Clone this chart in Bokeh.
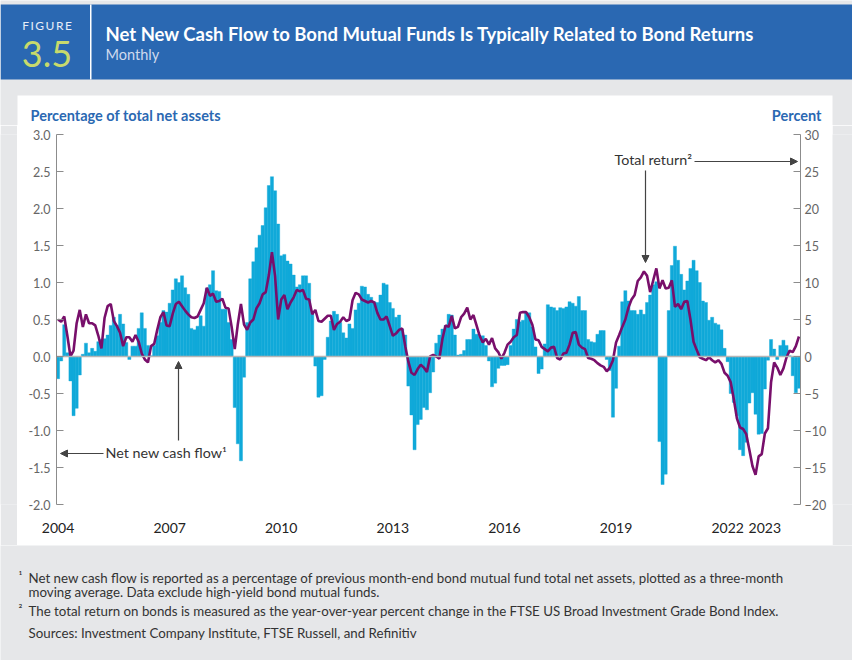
from bokeh.plotting import figure
from bokeh.layouts import column, row
from bokeh.models import (Range1d, LinearAxis, FixedTicker, Label, BoxAnnotation, Span,
                          Arrow, NormalHead, NumeralTickFormatter)
from bokeh.embed import file_html
from bokeh.resources import INLINE

# ---------------- data (monthly, Jan 2004 .. Dec 2023) ----------------
month_index = list(range(240))  # 0 = Jan 2004

# Net new cash flow, % of total net assets (3-month moving average)
net_flow = [
    -0.30, -0.06, 0.43, 0.05, -0.33, -0.80, -0.70, -0.25, 0.03, 0.18, 0.05, 0.11,   # 2004
    0.07, 0.20, 0.23, 0.24, 0.29, 0.42, 0.53, 0.42, 0.57, 0.44, 0.19, -0.04,        # 2005
    0.14, 0.14, 0.38, 0.59, 0.38, 0.15, 0.01, 0.15, 0.28, 0.46, 0.62, 0.60,         # 2006
    0.72, 0.90, 1.05, 1.00, 1.09, 0.93, 0.84, 0.38, 0.36, 0.41, 0.55, 0.41,         # 2007
    0.92, 0.97, 1.16, 0.89, 0.88, 0.64, 0.64, 0.46, 0.23, -0.69, -1.18, -1.41,      # 2008
    -0.28, 0.46, 1.05, 1.28, 1.47, 1.64, 1.77, 2.01, 2.31, 2.43, 2.24, 1.79,        # 2009
    1.36, 1.38, 1.29, 1.25, 1.10, 0.94, 0.97, 1.09, 1.09, 0.99, 0.57, -0.13,        # 2010
    -0.55, -0.53, -0.04, 0.26, 0.48, 0.61, 0.57, 0.46, 0.32, 0.25, 0.44, 0.38,      # 2011
    0.63, 0.72, 0.95, 0.94, 0.84, 0.80, 0.74, 0.73, 0.83, 0.99, 0.97, 0.73,         # 2012
    0.65, 0.53, 0.56, 0.37, 0.29, -0.40, -0.79, -1.26, -0.92, -0.85, -0.69, -0.72,  # 2013
    -0.49, -0.21, 0.18, 0.29, 0.37, 0.42, 0.57, 0.56, 0.29, 0.02, 0.03, 0.08,       # 2014
    0.23, 0.23, 0.37, 0.30, 0.27, 0.28, 0.15, -0.06, -0.41, -0.36, -0.16, -0.12,    # 2015
    -0.12, -0.11, 0.15, 0.37, 0.50, 0.47, 0.49, 0.59, 0.59, 0.40, 0.13, -0.23,      # 2016
    -0.17, 0.17, 0.70, 0.67, 0.66, 0.62, 0.66, 0.65, 0.67, 0.74, 0.72, 0.68,        # 2017
    0.81, 0.62, 0.62, 0.23, 0.20, 0.19, 0.30, 0.35, 0.35, -0.04, -0.19, -0.82,      # 2018
    -0.43, 0.14, 0.74, 0.89, 0.75, 0.62, 0.62, 0.57, 0.63, 0.57, 0.73, 0.83,        # 2019
    0.97, 1.01, -1.15, -1.73, -1.59, 0.62, 1.23, 1.49, 1.30, 1.11, 0.90, 1.02,      # 2020
    1.19, 1.30, 1.16, 1.00, 0.75, 0.73, 0.49, 0.53, 0.45, 0.43, 0.36, 0.11,         # 2021
    -0.07, -0.50, -0.62, -0.80, -1.26, -1.34, -1.16, -0.63, -0.49, -0.78, -1.05, -1.04,  # 2022
    -0.44, -0.05, 0.23, 0.10, -0.04, 0.15, 0.22, 0.15, 0.01, -0.26, -0.49, -0.43,   # 2023
]

# Total return on bonds, year-over-year percent change
total_return = [
    5.0, 4.7, 5.4, 2.8, 0.0, 0.8, 4.5, 6.3, 4.0, 5.7, 4.5, 4.5,            # 2004
    4.2, 2.8, 1.1, 5.2, 6.8, 7.1, 4.8, 4.1, 3.2, 1.4, 2.6, 2.6,            # 2005
    2.0, 2.9, 2.0, 0.4, -0.4, -0.8, 1.4, 1.7, 3.6, 5.3, 6.0, 4.2,          # 2006
    4.1, 5.8, 7.1, 7.4, 6.8, 6.2, 5.7, 5.3, 5.2, 5.4, 6.3, 7.2,            # 2007
    9.3, 8.2, 8.5, 7.4, 7.5, 7.8, 6.6, 6.5, 4.0, 1.0, 4.4, 7.1,            # 2008
    4.3, 3.6, 4.6, 5.0, 6.5, 7.2, 8.4, 8.7, 11.0, 14.1, 10.9, 5.0,         # 2009
    7.7, 8.3, 6.4, 7.3, 8.0, 9.0, 8.8, 9.0, 7.8, 7.7, 5.7, 6.3,            # 2010
    4.8, 4.7, 5.1, 5.5, 5.5, 3.6, 4.4, 4.7, 5.3, 4.8, 5.0, 7.6,            # 2011
    8.6, 8.4, 7.7, 7.5, 7.3, 7.5, 7.3, 5.9, 5.0, 5.0, 5.4, 4.1,            # 2012
    2.8, 3.1, 3.6, 3.8, 1.4, -0.7, -2.2, -2.5, -1.7, -1.1, -1.5, -2.1,     # 2013
    0.0, 0.2, 0.0, -0.3, 2.4, 4.2, 4.0, 5.5, 3.8, 4.0, 5.3, 5.8,           # 2014
    6.6, 5.0, 5.6, 4.2, 2.8, 1.9, 2.4, 1.6, 2.5, 1.1, 0.6, -0.3,           # 2015
    0.5, 1.6, 2.0, 2.6, 2.9, 5.9, 6.0, 6.0, 5.3, 4.3, 2.3, 2.2,            # 2016
    1.3, 1.0, 0.7, 1.2, 1.3, -0.2, -0.4, 0.4, 0.5, 1.6, 3.2, 3.3,          # 2017
    1.6, 1.2, 1.0, -0.2, -0.3, -0.5, -0.9, -1.2, -1.4, -2.0, -1.5, -0.5,   # 2018
    1.9, 2.9, 4.0, 5.0, 6.6, 7.7, 8.3, 10.2, 10.7, 11.5, 10.9, 8.7,        # 2019
    10.3, 11.9, 9.2, 10.3, 9.2, 9.3, 10.3, 6.7, 7.1, 6.4, 7.4, 7.5,        # 2020
    5.0, 2.0, 0.9, -0.1, -0.3, -0.5, -0.1, -0.5, -0.8, -0.5, -1.0, -2.2,   # 2021
    -2.6, -3.5, -5.8, -8.4, -9.6, -9.8, -10.5, -12.6, -14.8, -16.0, -13.5, -13.2,  # 2022
    -10.4, -9.7, -3.5, -0.8, -1.5, -2.5, -1.6, -0.1, 0.8, 0.6, 1.4, 2.7,   # 2023
]

year_ticks = [0, 36, 72, 108, 144, 180, 216, 228]
year_labels = ["2004", "2007", "2010", "2013", "2016", "2019", "2022", "2023"]
left_ticks = [-2.0, -1.5, -1.0, -0.5, 0.0, 0.5, 1.0, 1.5, 2.0, 2.5, 3.0]
right_ticks = [-20, -15, -10, -5, 0, 5, 10, 15, 20, 25, 30]

# ---------------- styling ----------------
BLUE = "#2a68b2"
GRAY_BG = "#e6e7e9"
BAR = "#10a9d9"
LINE = "#780f6b"
TXT = "#333333"
FONT = "Lato"
PAGE_W, PAGE_H = 852, 660
PANEL_L, PANEL_R, PANEL_T, PANEL_B = 17, 832, 125, 545


def deco_fig(w, h, y_top, y_bot, bg):
    """Decoration canvas whose data units are the page's pixels."""
    f = figure(width=w, height=h, output_backend="svg", toolbar_location=None,
               x_range=Range1d(0, w), y_range=Range1d(y_bot, y_top),
               x_axis_location=None, y_axis_location=None, title_location=None,
               min_border=0)
    f.min_border_left = f.min_border_right = f.min_border_top = f.min_border_bottom = 0
    f.xgrid.visible = False
    f.ygrid.visible = False
    f.outline_line_color = None
    f.background_fill_color = bg
    f.border_fill_color = bg
    return f


def add_label(f, text, x, y, size, color, bold=False, align="left"):
    f.add_layout(Label(x=x, y=y, text=text, text_font=FONT,
                       text_font_size=f"{size}px", text_color=color,
                       text_font_style="bold" if bold else "normal",
                       text_align=align, text_baseline="middle"))


def box(f, l, r, t, b, color):
    f.add_layout(BoxAnnotation(left=l, right=r, top=t, bottom=b, fill_color=color,
                               fill_alpha=1.0, line_alpha=0, level="underlay"))


# ---------------- header ----------------
head = deco_fig(PAGE_W, PANEL_T, 0, PANEL_T, GRAY_BG)
box(head, 0, PAGE_W, 4, 79, BLUE)
box(head, 89.5, 91, 4, 79, "white")
box(head, PANEL_L, PANEL_R, 95, PANEL_T + 1, "white")
add_label(head, "F\u2009I\u2009G\u2009U\u2009R\u2009E", 46.5, 25, 12, "#e8eef8", align="center")
add_label(head, "3.5", 46.5, 53, 36, "#c8da6c", align="center")
add_label(head, "Net New Cash Flow to Bond Mutual Funds Is Typically Related to Bond Returns",
          105, 33, 18.5, "white", bold=True)
add_label(head, "Monthly", 105, 54, 14.5, "#cfdaee")
add_label(head, "Percentage of total net assets", 30, 115, 14.5, BLUE, bold=True)
add_label(head, "Percent", 821, 115, 14.5, BLUE, bold=True, align="right")

# ---------------- main chart ----------------
p = figure(width=PANEL_R - PANEL_L, height=PANEL_B - PANEL_T, output_backend="svg",
           toolbar_location=None,
           x_range=Range1d(-0.5, 239.5), y_range=Range1d(-2, 3),
           x_axis_location=None, y_axis_location=None, title_location=None,
           min_border_left=39, min_border_right=32, min_border_top=9, min_border_bottom=41)
p.extra_y_ranges = {"ret": Range1d(-20, 30)}
p.xgrid.visible = False
p.ygrid.visible = False
p.outline_line_color = None
p.background_fill_color = "white"
p.border_fill_color = "white"

axis_gray = "#8c8c8c"
yl = LinearAxis(ticker=FixedTicker(ticks=left_ticks), formatter=NumeralTickFormatter(format="0.0"))
yr = LinearAxis(y_range_name="ret", ticker=FixedTicker(ticks=right_ticks))
for ax in (yl, yr):
    ax.axis_line_color = axis_gray
    ax.major_tick_line_color = axis_gray
    ax.major_tick_in = 7
    ax.major_tick_out = 0
    ax.minor_tick_line_color = None
    ax.major_label_text_font = FONT
    ax.major_label_text_font_size = "12.5px"
    ax.major_label_text_color = "#666666"
yl.major_label_standoff = 6
yr.major_label_standoff = 4
p.add_layout(yl, "left")
p.add_layout(yr, "right")

xa = LinearAxis(ticker=FixedTicker(ticks=year_ticks),
                major_label_overrides=dict(zip(year_ticks, year_labels)))
xa.axis_line_color = None
xa.major_tick_line_color = None
xa.minor_tick_line_color = None
xa.major_label_standoff = 12
xa.major_label_text_font = FONT
xa.major_label_text_font_size = "14px"
xa.major_label_text_color = "#222222"
p.add_layout(xa, "below")

p.vbar(x=month_index, top=net_flow, bottom=0, width=1.0,
       fill_color=BAR, line_color=BAR, line_width=0.4)
p.add_layout(Span(location=0, dimension="width", line_color="#b5b5b5", line_width=1.5, level="glyph"))
p.line(x=month_index, y=total_return, y_range_name="ret", line_color=LINE, line_width=2.6)


# page pixel -> chart data coordinates (for the annotations only)
def RX(px):
    return -0.5 + (px - 56) / 3.1


def RY(py):
    return 3 - (py - 134) / 74


add_label(p, "Total return\u00b2", RX(614), RY(159), 14.3, TXT)
add_label(p, "Net new cash flow\u00b9", RX(105), RY(452), 14.3, TXT)
arrow_c = "#444444"
for (x0, y0, x1, y1) in [(694, 161, 797, 161), (645, 170, 645, 262),
                         (103, 453, 60, 453), (178, 440, 178, 361)]:
    p.add_layout(Arrow(end=NormalHead(size=7, fill_color=arrow_c, line_color=arrow_c),
                       x_start=RX(x0), y_start=RY(y0), x_end=RX(x1), y_end=RY(y1),
                       line_color=arrow_c, line_width=1.2))

side_l = deco_fig(PANEL_L, PANEL_B - PANEL_T, 0, PANEL_B - PANEL_T, GRAY_BG)
side_r = deco_fig(PAGE_W - PANEL_R, PANEL_B - PANEL_T, 0, PANEL_B - PANEL_T, GRAY_BG)

# ---------------- footnotes ----------------
foot = deco_fig(PAGE_W, PAGE_H - PANEL_B, PANEL_B, PAGE_H, GRAY_BG)
FN = 13.3
add_label(foot, "\u00b9", 18, 575, 11.5, TXT)
add_label(foot, "Net new cash flow is reported as a percentage of previous month-end bond mutual fund total net assets, plotted as a three-month",
          28, 577, FN, TXT)
add_label(foot, "moving average. Data exclude high-yield bond mutual funds.", 28, 591, FN, TXT)
add_label(foot, "\u00b2", 18, 608, 11.5, TXT)
add_label(foot, "The total return on bonds is measured as the year-over-year percent change in the FTSE US Broad Investment Grade Bond Index.",
          28, 610, FN, TXT)
add_label(foot, "Sources: Investment Company Institute, FTSE Russell, and Refinitiv", 28, 632, FN, TXT)

layout = column(head, row(side_l, p, side_r, spacing=0), foot, spacing=0)
open("out.html", "w").write(file_html(layout, INLINE))
